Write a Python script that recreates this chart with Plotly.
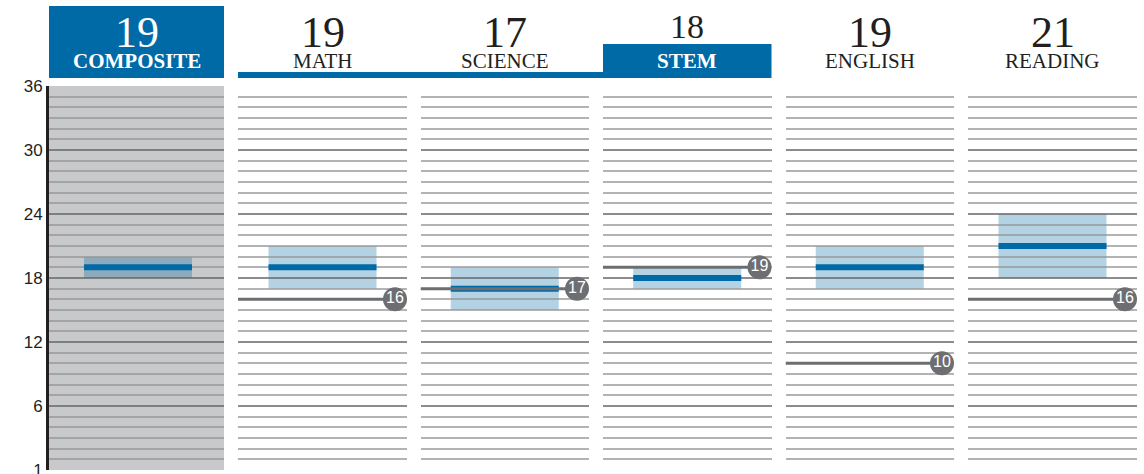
import plotly.graph_objects as go

# ---------------- data ----------------
subjects = ["COMPOSITE", "MATH", "SCIENCE", "STEM", "ENGLISH", "READING"]
scores = [19, 19, 17, 18, 19, 21]
range_low = [18, 17, 15, 17, 17, 18]
range_high = [20, 21, 19, 19, 21, 24]
benchmarks = [None, 16, 17, 19, 10, 16]
tick_values = [0, 6, 12, 18, 24, 30, 36]
tick_labels = ["1", "6", "12", "18", "24", "30", "36"]

# ---------------- geometry / style ----------------
W, H = 1144, 474
ML, MR, MT, MB = 49, 7, 86, 4
PW = W - ML - MR
PH = H - MT - MB
panel_px = [(49, 224), (238, 407), (420.5, 589), (603, 771.5), (785.5, 954), (968, 1137)]
box_px_width = 108
BLUE = "#006aa7"
DARK = "#231f20"
GREY_MARK = "#6d6e71"
SERIF = "Liberation Serif"
SANS = "Liberation Sans"
minor_lines = [v for v in range(0, 37) if v not in tick_values]


def px_to_paper_x(p):
    return (p - ML) / PW


def px_to_paper_y(p):
    return (H - MB - p) / PH


fig = go.Figure()
layout = dict(
    width=W, height=H,
    margin=dict(l=ML, r=MR, t=MT, b=MB, autoexpand=False),
    template="none",
    paper_bgcolor="white", plot_bgcolor="white",
    showlegend=False,
)

shapes = []
annotations = []

for i, name in enumerate(subjects):
    n = "" if i == 0 else str(i + 1)
    a, b = panel_px[i]
    wpx = b - a
    layout[f"xaxis{n}"] = dict(
        domain=[px_to_paper_x(a), px_to_paper_x(b)], range=[0, 1], anchor="y",
        showgrid=False, zeroline=False, showticklabels=False, ticks="",
        showline=False, fixedrange=True,
    )
    bl = 0.5 - box_px_width / 2 / wpx
    br = 0.5 + box_px_width / 2 / wpx
    if i == 0:
        bl = 35 / wpx
        br = 143 / wpx
        # composite grey background
        shapes.append(dict(type="rect", xref="x domain", yref="y domain",
                           x0=0, x1=1, y0=0, y1=1, fillcolor="#c8c9cb",
                           line=dict(width=0), layer="below"))
    box_fill = "#8eaabd" if i == 0 else "#b3d3e5"
    shapes.append(dict(type="rect", xref=f"x{n} domain", yref="y",
                       x0=bl, x1=br, y0=range_low[i], y1=range_high[i],
                       fillcolor=box_fill, line=dict(width=0), layer="below"))

    fig.add_trace(go.Scatter(
        x=[bl, br], y=[scores[i], scores[i]], xaxis=f"x{n}", yaxis="y",
        mode="lines", line=dict(color=BLUE, width=6), hoverinfo="skip"))

    if benchmarks[i] is not None:
        cx = 1 - 12 / wpx
        fig.add_trace(go.Scatter(
            x=[0, cx], y=[benchmarks[i], benchmarks[i]], xaxis=f"x{n}", yaxis="y",
            mode="lines", line=dict(color=GREY_MARK, width=3), hoverinfo="skip"))
        fig.add_trace(go.Scatter(
            x=[cx], y=[benchmarks[i]], xaxis=f"x{n}", yaxis="y",
            mode="markers+text", text=[str(benchmarks[i])],
            textposition="middle center",
            textfont=dict(family=SANS, size=16, color="white"),
            marker=dict(size=24, color=GREY_MARK), cliponaxis=False,
            hoverinfo="skip"))

    # headers
    highlighted = name in ("COMPOSITE", "STEM")
    num_size = 34 if name == "STEM" else 44
    num_y = 26.5 if name == "STEM" else 32
    num_color = "white" if name == "COMPOSITE" else DARK
    annotations.append(dict(
        xref=f"x{n} domain", yref="paper", x=0.5, y=px_to_paper_y(num_y),
        xanchor="center", yanchor="middle", showarrow=False,
        text=str(scores[i]), font=dict(family=SERIF, size=num_size, color=num_color)))
    annotations.append(dict(
        xref=f"x{n} domain", yref="paper", x=0.5, y=px_to_paper_y(61),
        xanchor="center", yanchor="middle", showarrow=False,
        text=f"<b>{name}</b>" if highlighted else name,
        font=dict(family=SERIF, size=21, color="white" if highlighted else DARK)))

# header boxes
shapes.append(dict(type="rect", xref="paper", yref="paper",
                   x0=px_to_paper_x(49), x1=px_to_paper_x(224),
                   y0=px_to_paper_y(78), y1=px_to_paper_y(6),
                   fillcolor=BLUE, line=dict(width=0), layer="below"))
shapes.append(dict(type="rect", xref="paper", yref="paper",
                   x0=px_to_paper_x(238), x1=px_to_paper_x(603),
                   y0=px_to_paper_y(78), y1=px_to_paper_y(72),
                   fillcolor=BLUE, line=dict(width=0), layer="below"))
shapes.append(dict(type="rect", xref="paper", yref="paper",
                   x0=px_to_paper_x(603), x1=px_to_paper_x(771.5),
                   y0=px_to_paper_y(78), y1=px_to_paper_y(44),
                   fillcolor=BLUE, line=dict(width=0), layer="below"))

layout["yaxis"] = dict(
    domain=[0, 1], range=[0, 36], anchor="x",
    tickmode="array", tickvals=tick_values, ticktext=tick_labels,
    showgrid=True, gridcolor="rgba(101,101,101,0.75)", gridwidth=2,
    minor=dict(tickmode="array", tickvals=minor_lines, showgrid=True,
               gridcolor="rgba(150,150,150,0.72)", gridwidth=2, ticks=""),
    showline=True, linecolor=DARK, linewidth=3, ticks="",
    tickfont=dict(family=SANS, size=17, color=DARK),
    ticklabeloverflow="allow",
    zeroline=False, fixedrange=True, automargin=False,
)
layout["shapes"] = shapes
layout["annotations"] = annotations
fig.update_layout(**layout)

fig.write_html(
    "out.html",
    config={"displayModeBar": False},
    post_script="document.body.style.margin='0';document.body.style.overflow='hidden';",
)
